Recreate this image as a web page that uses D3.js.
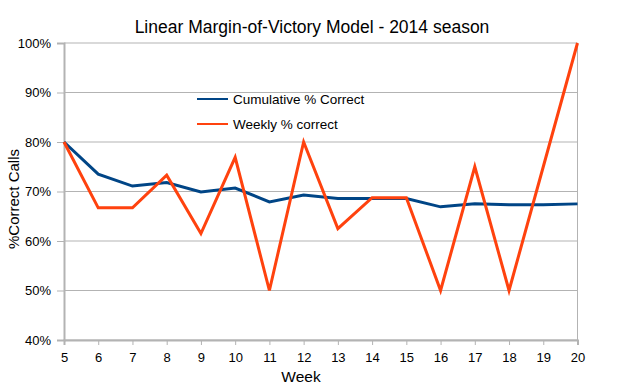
<!DOCTYPE html>
<html><head><meta charset="utf-8">
<script src="https://cdn.jsdelivr.net/npm/d3@7"></script>
<style>body{margin:0;background:#fff;} text{font-family:"Liberation Sans",Arial,sans-serif;fill:#000;}</style>
</head><body>
<svg id="c" width="622" height="389"></svg>
<script>
const weeks = [5,6,7,8,9,10,11,12,13,14,15,16,17,18,19,20];
const cumulative = [80,73.5,71.1,71.8,69.9,70.7,67.9,69.3,68.6,68.6,68.6,66.9,67.5,67.3,67.3,67.5];
const weekly = [80,66.7,66.7,73.3,61.5,76.9,50,80,62.5,68.75,68.75,50,75,50,75,100];
const yTicks = [40,50,60,70,80,90,100];
const seriesNames = ["Cumulative % Correct","Weekly % correct"];
const colors = ["#004586","#ff420e"];

const svg = d3.select("#c");
const x = d3.scaleLinear().domain([5,20]).range([64,577.5]);
const y = d3.scaleLinear().domain([40,100]).range([340,43]);

// gridlines
svg.append("g").selectAll("line").data(yTicks).join("line")
  .attr("x1",64).attr("x2",577.5).attr("y1",d=>y(d)).attr("y2",d=>y(d))
  .attr("stroke","#b3b3b3").attr("stroke-width",1);
// right border
svg.append("line").attr("x1",577.5).attr("x2",577.5).attr("y1",43).attr("y2",340).attr("stroke","#b3b3b3");

// y axis
const ya = svg.append("g").attr("transform","translate(64,0)")
  .call(d3.axisLeft(y).tickValues(yTicks).tickFormat(d=>d+"%").tickSize(7).tickPadding(6));
ya.select(".domain").attr("stroke","#b3b3b3").attr("stroke-width",2);
ya.selectAll(".tick line").attr("stroke","#b3b3b3");
ya.selectAll("text").style("font-size","13px").style("font-family","Liberation Sans, Arial").attr("fill","#000");

// x axis
const xa = svg.append("g").attr("transform","translate(0,340)")
  .call(d3.axisBottom(x).tickValues(weeks).tickFormat(d3.format("d")).tickSize(5).tickPadding(8));
xa.select(".domain").attr("stroke","#b3b3b3").attr("stroke-width",2);
xa.selectAll(".tick line").attr("stroke","#b3b3b3");
xa.selectAll("text").style("font-size","13px").style("font-family","Liberation Sans, Arial").attr("fill","#000");

// lines
const line = d3.line().x((d,i)=>x(weeks[i])).y(d=>y(d));
[cumulative,weekly].forEach((s,k)=>{
  svg.append("path").datum(s).attr("d",line).attr("fill","none")
    .attr("stroke",colors[k]).attr("stroke-width",3).attr("stroke-linejoin","miter");
});

// legend
seriesNames.forEach((n,k)=>{
  const ly = 99 + k*25;
  svg.append("line").attr("x1",197).attr("x2",228).attr("y1",ly).attr("y2",ly)
    .attr("stroke",colors[k]).attr("stroke-width",2);
  svg.append("text").attr("x",233).attr("y",ly+5).style("font-size","13.5px").text(n);
});

// titles
svg.append("text").attr("x",312).attr("y",33).attr("text-anchor","middle").style("font-size","17.5px")
  .text("Linear Margin-of-Victory Model - 2014 season");
svg.append("text").attr("x",301).attr("y",382).attr("text-anchor","middle").style("font-size","15.5px").text("Week");
svg.append("text").attr("transform","translate(19,199) rotate(-90)").attr("text-anchor","middle")
  .style("font-size","15px").text("%Correct Calls");
</script>
</body></html>
